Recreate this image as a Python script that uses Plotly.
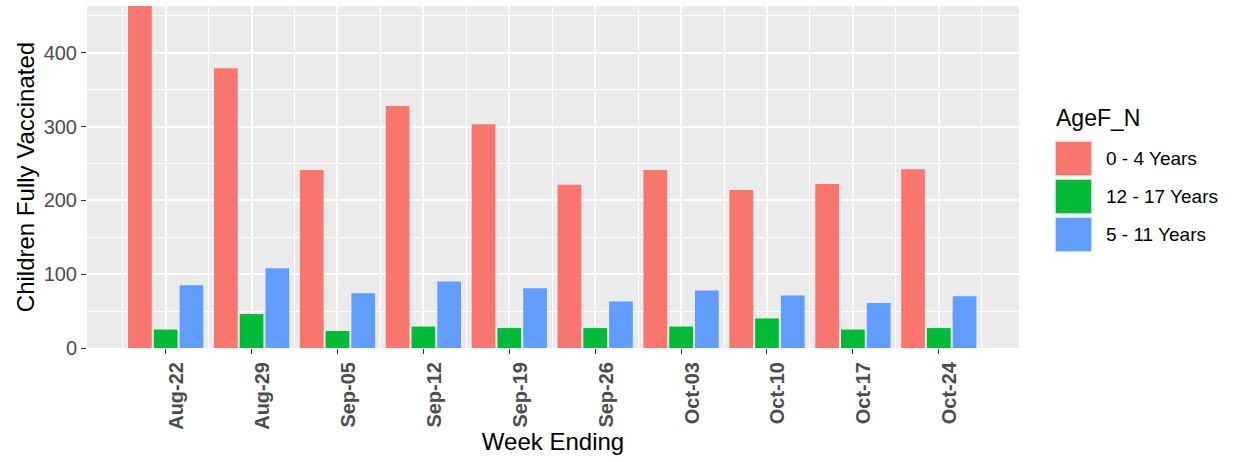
import plotly.graph_objects as go

# ---- data ----
weeks = ["Aug-22", "Aug-29", "Sep-05", "Sep-12", "Sep-19", "Sep-26",
         "Oct-03", "Oct-10", "Oct-17", "Oct-24"]
groups = ["0 - 4 Years", "12 - 17 Years", "5 - 11 Years"]
age_0_4 = [470, 379, 241, 328, 303, 221, 241, 214, 222, 242]
age_12_17 = [25, 46, 23, 29, 27, 27, 29, 40, 25, 27]
age_5_11 = [85, 108, 74, 90, 81, 63, 78, 71, 61, 70]
colors = ["#F8766D", "#00BA38", "#619CFF"]
series = [age_0_4, age_12_17, age_5_11]

W, H = 1236, 462
L, R, T, B = 87, 217, 6, 114
PW, PH = W - L - R, H - T - B
XRANGE = [-0.916, 9.934]
LABEL_SHIFT = 0.128  # ggplot rotated labels sit just right of the tick

def px_x(p):
    return (p - L) / PW

def px_y(p):
    return (H - B - p) / PH

xpos = list(range(len(weeks)))
fig = go.Figure()
for name, vals, col in zip(groups, series, colors):
    fig.add_trace(go.Bar(x=xpos, y=vals, name=name, marker_color=col,
                         marker_line_width=0, showlegend=False))
# empty helper trace so the label axis is drawn
fig.add_trace(go.Scatter(x=[None], y=[None], xaxis="x2", yaxis="y",
                         showlegend=False, hoverinfo="skip"))

font_family = "Liberation Sans, Arial, sans-serif"

fig.update_layout(
    width=W, height=H,
    margin=dict(l=L, r=R, t=T, b=B, pad=0, autoexpand=False),
    paper_bgcolor="white",
    plot_bgcolor="#EBEBEB",
    barmode="group",
    bargap=0.1,
    bargroupgap=0.08,
    font=dict(family=font_family, color="black"),
    showlegend=False,
)

fig.update_layout(
    xaxis=dict(
        automargin=False,
        range=XRANGE,
        tickmode="array", tickvals=xpos, ticktext=[""] * len(weeks),
        ticks="outside", ticklen=5, tickwidth=1.3, tickcolor="#333333",
        showgrid=True, gridcolor="white", gridwidth=1.5,
        minor=dict(tickvals=[i - 0.5 for i in range(len(weeks) + 1)],
                   showgrid=True, gridcolor="white", gridwidth=1.0, ticks=""),
        zeroline=False, showline=False,
        title=dict(text=""),
    ),
    xaxis2=dict(
        overlaying="x", side="bottom", anchor="y",
        automargin=False,
        range=XRANGE,
        tickmode="array", tickvals=[v + LABEL_SHIFT for v in xpos], ticktext=weeks,
        tickangle=-90,
        tickfont=dict(size=20, color="#4D4D4D", weight="bold"),
        ticks="outside", ticklen=5, tickwidth=1, tickcolor="rgba(0,0,0,0)",
        showgrid=False, zeroline=False, showline=False,
        title=dict(text="Week Ending", font=dict(size=24, color="black"), standoff=4),
    ),
)

fig.update_yaxes(
    automargin=False,
    range=[0, 463.3],
    tickmode="array", tickvals=[0, 100, 200, 300, 400],
    tickfont=dict(size=20, color="#4D4D4D"),
    ticks="outside", ticklen=5, tickwidth=1.3, tickcolor="#333333",
    showgrid=True, gridcolor="white", gridwidth=1.5,
    minor=dict(tickvals=[50, 150, 250, 350, 450],
               showgrid=True, gridcolor="white", gridwidth=1.0, ticks=""),
    zeroline=False, showline=False,
    title=dict(text="Children Fully Vaccinated", font=dict(size=24, color="black"), standoff=2),
)

# manual ggplot-style legend
shapes = []
annotations = []
annotations.append(dict(
    x=px_x(1054), y=px_y(118), xref="paper", yref="paper",
    xanchor="left", yanchor="middle", showarrow=False,
    text="AgeF_N", font=dict(size=23, color="black", family=font_family)))
row_top = [141, 179, 217]
for name, col, top in zip(groups, colors, row_top):
    shapes.append(dict(type="rect", xref="paper", yref="paper",
                       x0=px_x(1055), x1=px_x(1092), y0=px_y(top + 35), y1=px_y(top),
                       fillcolor=col, line=dict(color="#F2F2F2", width=1.5)))
    annotations.append(dict(
        x=px_x(1104), y=px_y(top + 17.5), xref="paper", yref="paper",
        xanchor="left", yanchor="middle", showarrow=False,
        text=name, font=dict(size=19, color="black", family=font_family)))

fig.update_layout(shapes=shapes, annotations=annotations)

fig.write_html("out.html", config={"displayModeBar": False},
               post_script="document.body.style.margin='0';")
